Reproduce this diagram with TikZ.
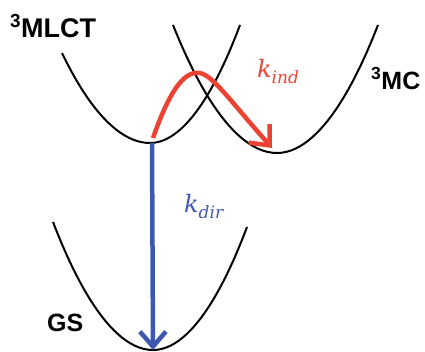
\documentclass[tikz,border=0pt]{standalone}
\usepackage{fontspec}
\setmainfont{Liberation Sans}
\newfontfamily\ratefont{DejaVu Serif}[ItalicFont={DejaVu Serif Italic}]
\usetikzlibrary{arrows.meta}

\definecolor{indred}{RGB}{236,66,50}
\definecolor{dirblue}{RGB}{62,88,178}

\newcommand{\rate}[1]{{\ratefont\itshape k\raisebox{-0.25em}{\fontsize{17}{17}\selectfont #1}}}

\begin{document}
\begin{tikzpicture}[x=1pt, y=-1pt,
    pes/.style={draw=black, line width=2pt},
    arrowDir/.style={draw=dirblue, line width=4.5pt, -{Straight Barb[length=15pt, width=26pt]}},
    arrowInd/.style={draw=indred, line width=4.5pt, -{Straight Barb[length=16pt, width=28pt]}},
    statelbl/.style={font=\fontsize{25}{25}\selectfont\bfseries, inner sep=0pt},
    ratelbl/.style={font=\fontsize{24}{24}\selectfont, inner sep=0pt},
  ]
  \useasboundingbox (0,0) rectangle (425,351);

  % Minima of the three surfaces.
  \coordinate (mlctmin) at (150,143);
  \coordinate (mcmin)   at (277,153);
  \coordinate (gsmin)   at (153,350);

  % Potential energy curves.
  \draw[pes] (62,53)  parabola bend (mlctmin) (240,25);
  \draw[pes] (173,25) parabola bend (mcmin)   (378,25);
  \draw[pes] (53,222) parabola bend (gsmin)   (247,227);

  % Direct decay MLCT -> GS.
  \coordinate (dirstart) at (152,143);
  \draw[arrowDir] (dirstart) -- (gsmin);

  % Indirect path over the crossing into the MC well.
  \coordinate (indstart) at (153,138);
  \coordinate (indtop)   at (200,73);
  \coordinate (indend)   at (272,148);
  \draw[arrowInd] (indstart) .. controls (168,95) and (183,70) .. (indtop)
    .. controls (213,76) and (228,98) .. (indend);

  % Labels.
  \node[statelbl, anchor=base west, font=\fontsize{27}{27}\selectfont\bfseries] (lmlct) at (10,37) {\textsuperscript{3}MLCT};
  \node[statelbl, anchor=base west] (lmc)   at (371,89) {\textsuperscript{3}MC};
  \node[statelbl, anchor=base west] (lgs)   at (47,331) {GS};
  \node[ratelbl, text=indred,  anchor=base west] (lind) at (257,77)  {\rate{ind}};
  \node[ratelbl, text=dirblue, anchor=base west] (ldir) at (184,212) {\rate{dir}};
\end{tikzpicture}
\end{document}
